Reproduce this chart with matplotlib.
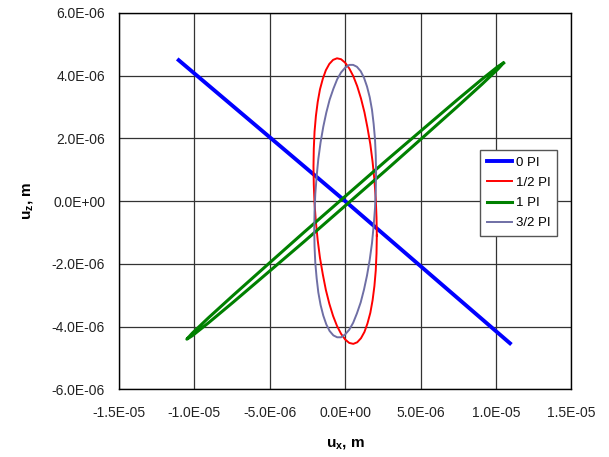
import matplotlib
matplotlib.use("Agg")
import matplotlib.pyplot as plt
from matplotlib.ticker import FuncFormatter, MultipleLocator
import numpy as np

plt.rcParams['font.family'] = ['Liberation Sans', 'DejaVu Sans']
plt.rcParams['mathtext.fontset'] = 'custom'
plt.rcParams['mathtext.rm'] = 'Liberation Sans'
plt.rcParams['mathtext.bf'] = 'Liberation Sans:bold'

# data, in micrometres
ux_0pi = [-11.04, 0.00, 10.93]
uz_0pi = [4.49, 0.00, -4.53]

ux_half = [2.10, 2.08, 2.03, 1.94, 1.82, 1.67, 1.48, 1.28, 1.05, 0.80, 0.54, 0.27, 0.00,
           -0.27, -0.54, -0.80, -1.05, -1.28, -1.48, -1.67, -1.82, -1.94, -2.03, -2.08,
           -2.10, -2.08, -2.03, -1.94, -1.82, -1.67, -1.48, -1.28, -1.05, -0.80, -0.54, -0.27,
           0.00, 0.27, 0.54, 0.80, 1.05, 1.28, 1.48, 1.67, 1.82, 1.94, 2.03, 2.08, 2.10]
uz_half = [-1.10, -0.52, 0.08, 0.67, 1.25, 1.81, 2.34, 2.83, 3.27, 3.66, 3.98, 4.23, 4.41,
           4.52, 4.55, 4.50, 4.37, 4.17, 3.90, 3.56, 3.16, 2.71, 2.21, 1.67,
           1.10, 0.52, -0.08, -0.67, -1.25, -1.81, -2.34, -2.83, -3.27, -3.66, -3.98, -4.23,
           -4.41, -4.52, -4.55, -4.50, -4.37, -4.17, -3.90, -3.56, -3.16, -2.71, -2.21, -1.67, -1.10]

ux_1pi = [10.50, 10.14, 9.09, 7.42, 5.25, 2.72, 0.00, -2.72, -5.25, -7.42, -9.09, -10.14,
          -10.50, -10.14, -9.09, -7.42, -5.25, -2.72, 0.00, 2.72, 5.25, 7.42, 9.09, 10.14, 10.50]
uz_1pi = [4.40, 4.29, 3.89, 3.22, 2.33, 1.29, 0.15, -0.99, -2.07, -3.00, -3.73, -4.21,
          -4.40, -4.29, -3.89, -3.22, -2.33, -1.29, -0.15, 0.99, 2.07, 3.00, 3.73, 4.21, 4.40]

ux_3half = [2.05, 2.03, 1.98, 1.89, 1.78, 1.63, 1.45, 1.25, 1.03, 0.78, 0.53, 0.27, 0.00,
            -0.27, -0.53, -0.78, -1.03, -1.25, -1.45, -1.63, -1.78, -1.89, -1.98, -2.03,
            -2.05, -2.03, -1.98, -1.89, -1.78, -1.63, -1.45, -1.25, -1.03, -0.78, -0.53, -0.27,
            0.00, 0.27, 0.53, 0.78, 1.03, 1.25, 1.45, 1.63, 1.78, 1.89, 1.98, 2.03, 2.05]
uz_3half = [0.90, 1.45, 1.97, 2.46, 2.91, 3.31, 3.65, 3.93, 4.14, 4.28, 4.34, 4.34, 4.25,
            4.10, 3.88, 3.58, 3.23, 2.82, 2.37, 1.87, 1.34, 0.79, 0.23, -0.34,
            -0.90, -1.45, -1.97, -2.46, -2.91, -3.31, -3.65, -3.93, -4.14, -4.28, -4.34, -4.34,
            -4.25, -4.10, -3.88, -3.58, -3.23, -2.82, -2.37, -1.87, -1.34, -0.79, -0.23, 0.34, 0.90]

labels = ['0 PI', '1/2 PI', '1 PI', '3/2 PI']
um = 1e-6

fig = plt.figure(figsize=(6.09, 4.57), dpi=100)
ax = fig.add_axes([0.1954, 0.148, 0.7427, 0.824])

ax.plot(np.array(ux_0pi) * um, np.array(uz_0pi) * um, color='#0000FF', lw=2.8, label=labels[0])
ax.plot(np.array(ux_half) * um, np.array(uz_half) * um, color='#FF0000', lw=1.4, label=labels[1])
ax.plot(np.array(ux_1pi) * um, np.array(uz_1pi) * um, color='#008000', lw=2.2, label=labels[2])
ax.plot(np.array(ux_3half) * um, np.array(uz_3half) * um, color='#6F6FA5', lw=1.4, label=labels[3])

ax.set_xlim(-1.5e-5, 1.5e-5)
ax.set_ylim(-6e-6, 6e-6)
ax.xaxis.set_major_locator(MultipleLocator(5e-6))
ax.yaxis.set_major_locator(MultipleLocator(2e-6))
fmt = FuncFormatter(lambda v, p: '{:.1E}'.format(0.0 if abs(v) < 1e-12 else v))
ax.xaxis.set_major_formatter(fmt)
ax.yaxis.set_major_formatter(fmt)
ax.tick_params(length=0, labelsize=10, colors='#222222')
ax.tick_params(axis='x', pad=12)
ax.tick_params(axis='y', pad=10)

ax.grid(True, color='#333333', lw=0.9)
ax.set_axisbelow(True)
for s in ax.spines.values():
    s.set_color('black')
    s.set_linewidth(1.0)

ax.set_xlabel(r'$\mathbf{u_x}$, m', fontsize=11, fontweight='bold', labelpad=12)
ax.set_ylabel(r'$\mathbf{u_z}$, m', fontsize=11, fontweight='bold', labelpad=12)

leg = ax.legend(loc='upper left', bbox_to_anchor=(480 / 609, 1 - 150 / 457),
                bbox_transform=fig.transFigure, fontsize=9.5, frameon=True,
                fancybox=False, framealpha=1, edgecolor='#555555',
                handlelength=1.9, handletextpad=0.3, labelspacing=0.6,
                borderpad=0.5, borderaxespad=0)
leg.get_frame().set_linewidth(1.0)

fig.savefig('out.png', dpi=100)
